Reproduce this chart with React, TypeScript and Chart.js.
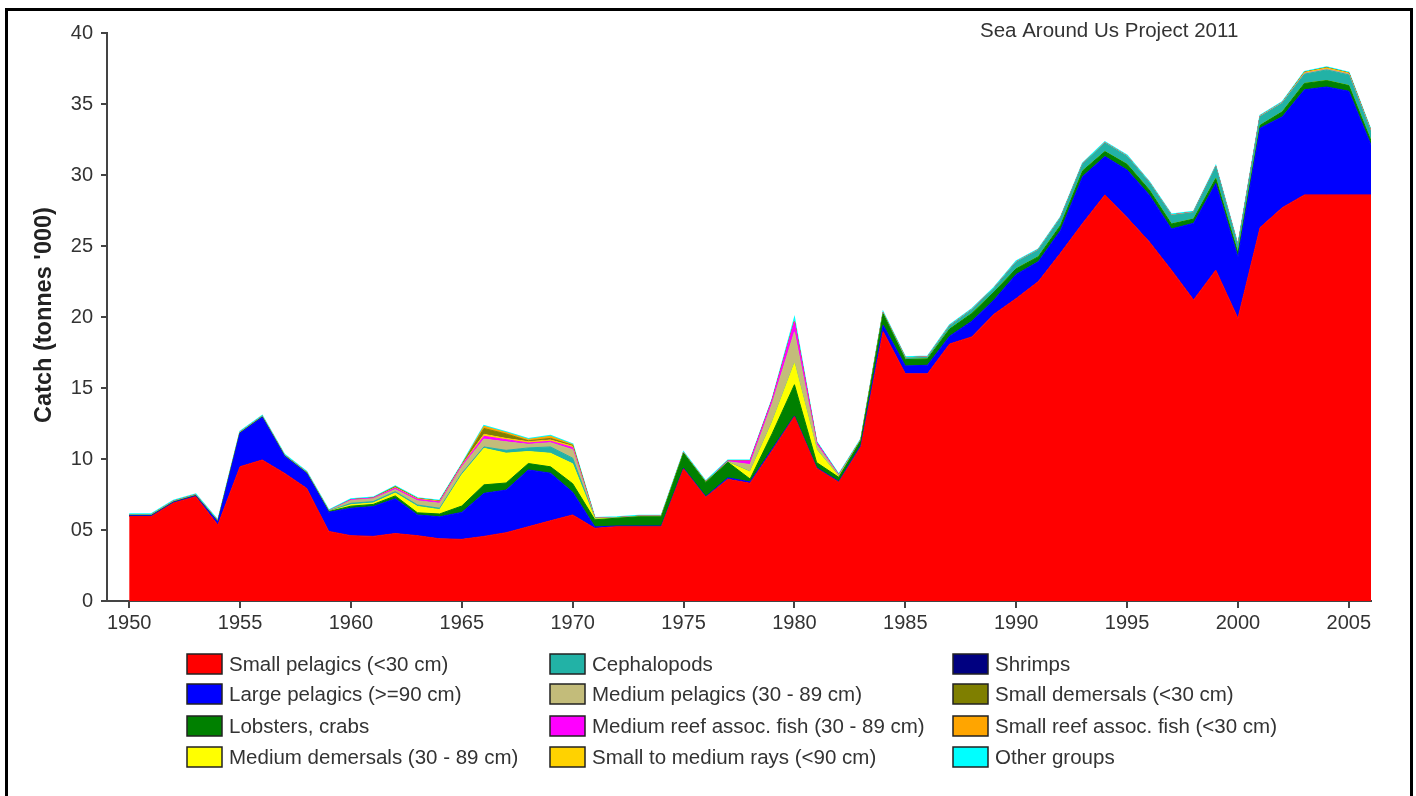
import React, { useEffect, useRef } from "react";
import { Chart, registerables } from "chart.js";

Chart.register(...registerables);

const years = [
  1950, 1951, 1952, 1953, 1954, 1955, 1956, 1957, 1958, 1959,
  1960, 1961, 1962, 1963, 1964, 1965, 1966, 1967, 1968, 1969,
  1970, 1971, 1972, 1973, 1974, 1975, 1976, 1977, 1978, 1979,
  1980, 1981, 1982, 1983, 1984, 1985, 1986, 1987, 1988, 1989,
  1990, 1991, 1992, 1993, 1994, 1995, 1996, 1997, 1998, 1999,
  2000, 2001, 2002, 2003, 2004, 2005, 2006,
];

const xTicks = [1950, 1955, 1960, 1965, 1970, 1975, 1980, 1985, 1990, 1995, 2000, 2005];
const yTickValues = [0, 5, 10, 15, 20, 25, 30, 35, 40];
const yTickLabels = ["0", "05", "10", "15", "20", "25", "30", "35", "40"];

const smallPelagics = [
  5.95, 5.95, 6.9, 7.35, 5.35, 9.46, 9.93, 9.0, 7.94, 4.9,
  4.6, 4.55, 4.75, 4.6, 4.38, 4.34, 4.55, 4.81, 5.23, 5.65,
  6.06, 5.12, 5.23, 5.23, 5.23, 9.3, 7.3, 8.57, 8.29, 10.6,
  12.98, 9.34, 8.36, 10.87, 18.97, 16.0, 16.0, 18.1, 18.6, 20.2,
  21.3, 22.5, 24.5, 26.6, 28.6, 27.0, 25.3, 23.3, 21.2, 23.3,
  19.9, 26.3, 27.7, 28.6, 28.6, 28.6, 28.6,
];
const largePelagics = [
  0.05, 0.05, 0.05, 0.05, 0.2, 2.35, 3.0, 1.2, 1.05, 1.35,
  1.93, 2.1, 2.45, 1.46, 1.55, 1.9, 3.03, 3.0, 4.0, 3.35,
  1.6, 0.1, 0.05, 0.05, 0.05, 0.05, 0.05, 0.1, 0.1, 0.1,
  0.05, 0.05, 0.05, 0.1, 0.45, 0.55, 0.6, 0.55, 1.1, 1.0,
  1.7, 1.4, 1.6, 3.3, 2.7, 3.35, 3.3, 2.9, 5.4, 6.1,
  4.3, 7.0, 6.4, 7.4, 7.6, 7.3, 3.5,
];
const lobstersCrabs = [
  0.03, 0.03, 0.03, 0.03, 0.03, 0.03, 0.03, 0.03, 0.03, 0.05,
  0.15, 0.15, 0.2, 0.15, 0.2, 0.45, 0.6, 0.5, 0.45, 0.45,
  0.6, 0.5, 0.55, 0.65, 0.65, 1.05, 1.0, 1.1, 0.2, 1.1,
  2.2, 0.36, 0.3, 0.35, 0.8, 0.45, 0.45, 0.5, 0.55, 0.55,
  0.4, 0.35, 0.35, 0.4, 0.35, 0.4, 0.35, 0.35, 0.3, 0.35,
  0.3, 0.2, 0.35, 0.45, 0.45, 0.4, 0.3,
];
const mediumDemersals = [
  0, 0, 0, 0, 0, 0, 0, 0, 0, 0,
  0.1, 0.1, 0.2, 0.45, 0.3, 2.2, 2.57, 2.1, 0.85, 0.95,
  1.4, 0.05, 0, 0, 0, 0, 0, 0, 0.5, 0.8,
  1.5, 0.9, 0.05, 0, 0, 0, 0, 0, 0, 0,
  0, 0, 0, 0, 0, 0, 0, 0, 0, 0,
  0, 0, 0, 0, 0, 0, 0,
];
const cephalopods = [
  0.03, 0.03, 0.03, 0.03, 0.03, 0.03, 0.03, 0.03, 0.03, 0.03,
  0.1, 0.1, 0.1, 0.1, 0.1, 0.1, 0.1, 0.2, 0.25, 0.45,
  0.4, 0.02, 0.02, 0.02, 0.02, 0.02, 0.02, 0.02, 0.02, 0.02,
  0.02, 0.02, 0.02, 0.02, 0.05, 0.1, 0.1, 0.2, 0.25, 0.25,
  0.45, 0.45, 0.5, 0.45, 0.6, 0.55, 0.5, 0.6, 0.45, 0.8,
  0.45, 0.6, 0.6, 0.65, 0.75, 0.75, 0.6,
];
const mediumPelagics = [
  0.02, 0.02, 0.02, 0.02, 0.02, 0.02, 0.02, 0.02, 0.02, 0.02,
  0.2, 0.2, 0.15, 0.3, 0.35, 0.45, 0.55, 0.6, 0.25, 0.3,
  0.6, 0.03, 0.02, 0.02, 0.02, 0.02, 0.02, 0.02, 0.5, 1.3,
  2.2, 0.35, 0.05, 0.03, 0.03, 0.03, 0.03, 0.03, 0.03, 0.03,
  0.03, 0.03, 0.03, 0.03, 0.03, 0.03, 0.03, 0.03, 0.03, 0.03,
  0.05, 0.05, 0.05, 0.05, 0.05, 0.05, 0.05,
];
const mediumReefFish = [
  0, 0, 0, 0, 0, 0, 0, 0, 0, 0,
  0.05, 0.05, 0.1, 0.1, 0.1, 0.1, 0.2, 0.15, 0.1, 0.1,
  0.15, 0, 0, 0, 0, 0, 0, 0.05, 0.25, 0.25,
  0.7, 0.15, 0.03, 0, 0, 0, 0, 0, 0, 0,
  0, 0, 0, 0, 0, 0, 0, 0, 0, 0,
  0, 0, 0, 0, 0, 0, 0,
];
const smallMediumRays = [
  0, 0, 0, 0, 0, 0, 0, 0, 0, 0,
  0, 0, 0.05, 0.05, 0.05, 0.05, 0.15, 0.1, 0.1, 0.1,
  0.1, 0, 0, 0, 0, 0, 0, 0, 0, 0,
  0, 0, 0, 0, 0, 0, 0, 0, 0, 0,
  0, 0, 0, 0, 0, 0, 0, 0, 0, 0,
  0, 0, 0, 0.08, 0.1, 0.08, 0.04,
];
const shrimps = [
  0, 0, 0, 0, 0, 0, 0, 0, 0, 0,
  0, 0, 0, 0, 0, 0, 0, 0, 0, 0,
  0, 0, 0, 0, 0, 0, 0, 0, 0, 0,
  0, 0, 0, 0, 0, 0, 0, 0, 0, 0,
  0, 0, 0, 0, 0, 0, 0, 0, 0, 0,
  0, 0, 0, 0, 0, 0, 0,
];
const smallDemersals = [
  0, 0, 0, 0, 0, 0, 0, 0, 0, 0,
  0, 0, 0.05, 0, 0, 0, 0.4, 0.3, 0.05, 0.1,
  0.05, 0, 0, 0, 0, 0, 0, 0, 0, 0,
  0, 0, 0, 0, 0, 0, 0, 0, 0, 0,
  0, 0, 0, 0, 0, 0, 0, 0, 0, 0,
  0, 0, 0, 0, 0, 0, 0,
];
const smallReefFish = [
  0, 0, 0, 0, 0, 0, 0, 0, 0, 0,
  0, 0, 0, 0, 0, 0, 0.15, 0.1, 0.1, 0.15,
  0.05, 0, 0, 0, 0, 0, 0, 0, 0, 0,
  0.05, 0, 0, 0, 0, 0, 0, 0, 0, 0,
  0, 0, 0, 0, 0, 0, 0, 0, 0, 0,
  0, 0, 0, 0, 0, 0, 0,
];
const otherGroups = [
  0.05, 0.05, 0.05, 0.05, 0.05, 0.05, 0.05, 0.05, 0.05, 0.05,
  0.05, 0.05, 0.05, 0.05, 0.05, 0.05, 0.05, 0.05, 0.05, 0.05,
  0.05, 0.05, 0.05, 0.05, 0.05, 0.05, 0.05, 0.05, 0.05, 0.05,
  0.2, 0.05, 0.05, 0.05, 0.05, 0.05, 0.05, 0.05, 0.05, 0.05,
  0.05, 0.05, 0.05, 0.05, 0.05, 0.05, 0.05, 0.05, 0.05, 0.05,
  0.05, 0.05, 0.05, 0.05, 0.05, 0.05, 0.05,
];

const seriesLabels = [
  "Small pelagics (<30 cm)",
  "Large pelagics (>=90 cm)",
  "Lobsters, crabs",
  "Medium demersals (30 - 89 cm)",
  "Cephalopods",
  "Medium pelagics (30 - 89 cm)",
  "Medium reef assoc. fish (30 - 89 cm)",
  "Small to medium rays (<90 cm)",
  "Shrimps",
  "Small demersals (<30 cm)",
  "Small reef assoc. fish (<30 cm)",
  "Other groups",
];
const seriesValues = [
  smallPelagics, largePelagics, lobstersCrabs, mediumDemersals,
  cephalopods, mediumPelagics, mediumReefFish, smallMediumRays,
  shrimps, smallDemersals, smallReefFish, otherGroups,
];
const seriesColors = [
  "#FF0000", "#0000FF", "#008000", "#FFFF00",
  "#22B2A6", "#C3BC7A", "#FF00FF", "#FFD200",
  "#000080", "#7F7F00", "#FFA500", "#00FFFF",
];

const FONT = "'Liberation Sans', Arial, Helvetica, sans-serif";

const decorPlugin = {
  id: "decor",
  afterDraw(chart: any) {
    const ctx = chart.ctx;
    ctx.save();
    // Title (top right)
    ctx.fillStyle = "#333";
    ctx.font = `20.5px ${FONT}`;
    ctx.textAlign = "left";
    ctx.textBaseline = "middle";
    ctx.fillText("Sea Around Us Project 2011", 980, 31);

    // Y axis title
    ctx.save();
    ctx.translate(45, 315);
    ctx.rotate(-Math.PI / 2);
    ctx.font = `bold 23.5px ${FONT}`;
    ctx.fillStyle = "#222";
    ctx.textAlign = "center";
    ctx.textBaseline = "middle";
    ctx.fillText("Catch (tonnes '000)", 0, 0);
    ctx.restore();

    // Legend: 3 columns x 4 rows, column-major
    const colX = [187, 550, 953];
    const rowY = [664, 694, 726, 757];
    chart.data.datasets.forEach((ds: any, i: number) => {
      const col = Math.floor(i / 4);
      const row = i % 4;
      const x = colX[col];
      const y = rowY[row];
      ctx.fillStyle = ds.backgroundColor;
      ctx.fillRect(x, y - 10, 35, 20);
      ctx.strokeStyle = "#222";
      ctx.lineWidth = 1.5;
      ctx.strokeRect(x, y - 10, 35, 20);
      ctx.fillStyle = "#333";
      ctx.font = `20.5px ${FONT}`;
      ctx.textAlign = "left";
      ctx.textBaseline = "middle";
      ctx.fillText(ds.label, x + 42, y + 1);
    });
    ctx.restore();
  },
};

export default function App() {
  const canvasRef = useRef<HTMLCanvasElement | null>(null);

  useEffect(() => {
    if (!canvasRef.current) return;
    Chart.defaults.font.family = FONT;
    const datasets = seriesValues.map((vals, i) => ({
      label: seriesLabels[i],
      data: years.map((x, j) => ({ x, y: vals[j] })),
      backgroundColor: seriesColors[i],
      borderColor: seriesColors[i],
      borderWidth: i === seriesValues.length - 1 ? 1.5 : 1,
      pointRadius: 0,
      pointHoverRadius: 0,
      tension: 0,
      fill: i === 0 ? "origin" : "-1",
    }));

    const chart = new Chart(canvasRef.current, {
      type: "line",
      data: { datasets },
      options: {
        responsive: false,
        animation: false,
        events: [],
        layout: { padding: { left: 0, top: 33, right: 45, bottom: 0 } },
        plugins: {
          legend: { display: false },
          tooltip: { enabled: false },
          title: { display: false },
        },
        scales: {
          x: {
            type: "linear",
            min: 1949,
            max: 2006,
            afterBuildTicks: (s: any) => {
              s.ticks = xTicks.map((v) => ({ value: v }));
            },
            afterFit: (s: any) => {
              s.height = 195;
            },
            ticks: {
              autoSkip: false,
              maxRotation: 0,
              color: "#333",
              font: { size: 20, family: FONT },
              padding: 3,
              callback: (v: any) => String(v),
            },
            grid: {
              display: true,
              drawOnChartArea: false,
              drawTicks: true,
              tickLength: 7,
              color: "#444",
              lineWidth: 2,
            },
            border: { display: true, color: "#444", width: 2 },
          },
          y: {
            type: "linear",
            stacked: true,
            min: 0,
            max: 40,
            afterBuildTicks: (s: any) => {
              s.ticks = yTickValues.map((v) => ({ value: v }));
            },
            afterFit: (s: any) => {
              s.width = 107;
            },
            ticks: {
              color: "#333",
              font: { size: 20, family: FONT },
              padding: 8,
              callback: (_v: any, idx: number) => yTickLabels[idx],
            },
            grid: {
              display: true,
              drawOnChartArea: false,
              drawTicks: true,
              tickLength: 6,
              color: "#444",
              lineWidth: 2,
            },
            border: { display: true, color: "#444", width: 2 },
          },
        },
      },
      plugins: [decorPlugin],
    });
    return () => chart.destroy();
  }, []);

  return (
    <div style={{ position: "fixed", left: 0, top: 0, width: 1416, height: 796, background: "#fff", overflow: "hidden" }}>
      <canvas ref={canvasRef} width={1416} height={796} style={{ position: "absolute", left: 0, top: 0 }} />
      <div
        style={{
          position: "absolute",
          left: 5,
          top: 8,
          width: 1408,
          height: 810,
          border: "3px solid #000",
          boxSizing: "border-box",
          pointerEvents: "none",
        }}
      />
    </div>
  );
}
